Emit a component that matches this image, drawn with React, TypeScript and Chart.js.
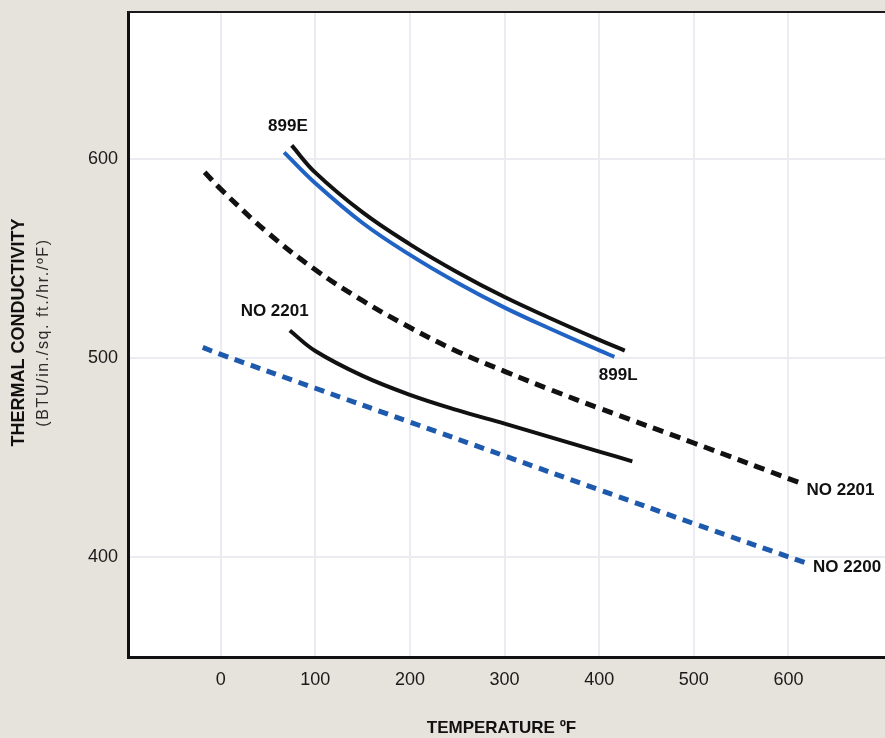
import React, { useEffect, useRef } from "react";
import { Chart, registerables } from "chart.js";

Chart.register(...registerables);

// ---- data ----
const xTicks = [0, 100, 200, 300, 400, 500, 600];
const yTicks = [400, 500, 600];

const e899Temp = [75, 100, 150, 200, 250, 300, 350, 400, 427];
const e899Val = [607, 593.3, 573.3, 557.3, 543.3, 530.8, 519.8, 509.3, 503.9];

const l899Temp = [67, 100, 150, 200, 250, 300, 350, 400, 416];
const l899Val = [603.5, 588, 568, 552, 538, 525.5, 514.5, 504, 500.8];

const no2201DashTemp = [-17, 0, 50, 100, 150, 200, 250, 300, 350, 400, 500, 612];
const no2201DashVal = [593.5, 585, 563, 544.5, 529, 515.5, 503.5, 493.5, 484, 475, 457.5, 437.5];

const no2201SolidTemp = [73, 100, 150, 200, 250, 300, 350, 400, 435];
const no2201SolidVal = [514, 503.7, 491.2, 481.7, 474, 467.2, 460.2, 453.2, 448.3];

const no2200Temp = [-19, 0, 100, 200, 300, 400, 500, 617];
const no2200Val = [505.5, 502, 485, 468, 451, 434, 417, 397.5];

const xTitle = "TEMPERATURE \u00BAF";
const yTitle1 = "THERMAL CONDUCTIVITY";
const yTitle2 = "(BTU/in./sq. ft./hr./\u00BAF)";

// label anchors in data space: [text, temp, value, align]
const curveLabels: [string, number, number, CanvasTextAlign][] = [
  ["899E", 71, 616.5, "center"],
  ["899L", 420, 491.5, "center"],
  ["NO 2201", 57, 523.5, "center"],
  ["NO 2201", 619, 433.5, "left"],
  ["NO 2200", 626, 395, "left"],
];

const zip = (xs: number[], ys: number[]) => xs.map((x, i) => ({ x, y: ys[i] }));

const BG = "#e6e2dc";
const FAM = "'Liberation Sans', Arial, sans-serif";
const BOLD = `bold 17px ${FAM}`;

const decorPlugin = {
  id: "decor",
  beforeDraw(chart: any) {
    const { ctx, chartArea: a } = chart;
    ctx.save();
    ctx.fillStyle = "#ffffff";
    ctx.fillRect(a.left, a.top, a.right - a.left, a.bottom - a.top);
    ctx.restore();
  },
  afterDraw(chart: any) {
    const { ctx, chartArea: a, scales } = chart;
    ctx.save();
    // top border
    ctx.strokeStyle = "#1a1a1a";
    ctx.lineWidth = 2;
    ctx.beginPath();
    ctx.moveTo(a.left, a.top);
    ctx.lineTo(a.right, a.top);
    ctx.stroke();

    // curve labels
    ctx.fillStyle = "#111";
    ctx.font = BOLD;
    ctx.textBaseline = "middle";
    for (const [t, xv, yv, al] of curveLabels) {
      ctx.textAlign = al;
      ctx.fillText(t, scales.x.getPixelForValue(xv), scales.y.getPixelForValue(yv));
    }

    // x title
    ctx.textAlign = "center";
    ctx.fillText(xTitle, (a.left + a.right) / 2 - 5, 728);

    // y titles
    const cy = (a.top + a.bottom) / 2 - 2;
    ctx.translate(19, cy);
    ctx.rotate(-Math.PI / 2);
    ctx.font = `bold 18px ${FAM}`;
    ctx.textAlign = "center";
    ctx.fillText(yTitle1, 0, 0);
    ctx.font = `16px ${FAM}`;
    (ctx as any).letterSpacing = "1.6px";
    ctx.fillStyle = "#2a2a2a";
    ctx.fillText(yTitle2, 0, 25);
    ctx.restore();
  },
};

export default function App() {
  const ref = useRef<HTMLCanvasElement | null>(null);

  useEffect(() => {
    if (!ref.current) return;
    const blue = "#2063c4";
    const dashBlue = "#1d5aae";
    const common = { pointRadius: 0, tension: 0.4, fill: false };
    const chart = new Chart(ref.current, {
      type: "line",
      data: {
        datasets: [
          {
            label: "899E",
            data: zip(e899Temp, e899Val),
            borderColor: "#111",
            borderWidth: 4,
            ...common,
          },
          {
            label: "899L",
            data: zip(l899Temp, l899Val),
            borderColor: blue,
            borderWidth: 4,
            ...common,
          },
          {
            label: "NO 2201 (dashed)",
            data: zip(no2201DashTemp, no2201DashVal),
            borderColor: "#111",
            borderWidth: 5,
            borderDash: [11, 7],
            ...common,
          },
          {
            label: "NO 2201",
            data: zip(no2201SolidTemp, no2201SolidVal),
            borderColor: "#111",
            borderWidth: 4,
            ...common,
          },
          {
            label: "NO 2200",
            data: zip(no2200Temp, no2200Val),
            borderColor: dashBlue,
            borderWidth: 5,
            borderDash: [10, 7],
            ...common,
          },
        ],
      },
      options: {
        responsive: false,
        animation: false,
        devicePixelRatio: 1,
        layout: { padding: { top: 12, right: 0, left: 0, bottom: 0 } },
        plugins: { legend: { display: false }, tooltip: { enabled: false } },
        scales: {
          x: {
            type: "linear",
            min: -98,
            max: 702,
            afterBuildTicks: (s: any) => {
              s.ticks = xTicks.map((v) => ({ value: v }));
            },
            afterFit: (s: any) => {
              s.height = 81;
              s.paddingLeft = 0;
              s.paddingRight = 0;
            },
            ticks: {
              color: "#1a1a1a",
              font: { size: 18, family: FAM },
              padding: 12,
              maxRotation: 0,
            },
            grid: { color: "#ebebf2", lineWidth: 2, drawTicks: false },
            border: { display: true, color: "#111", width: 3 },
          },
          y: {
            type: "linear",
            min: 350,
            max: 674,
            afterBuildTicks: (s: any) => {
              s.ticks = yTicks.map((v) => ({ value: v }));
            },
            afterFit: (s: any) => {
              s.width = 128;
              s.paddingTop = 0;
              s.paddingBottom = 0;
            },
            ticks: {
              color: "#1a1a1a",
              font: { size: 18, family: FAM },
              padding: 10,
            },
            grid: { color: "#ebebf2", lineWidth: 2, drawTicks: false },
            border: { display: true, color: "#111", width: 3 },
          },
        },
      },
      plugins: [decorPlugin],
    });
    return () => chart.destroy();
  }, []);

  return (
    <div
      style={{
        position: "fixed",
        left: 0,
        top: 0,
        width: 885,
        height: 738,
        background: BG,
        overflow: "hidden",
      }}
    >
      <canvas ref={ref} width={885} height={738} style={{ display: "block" }} />
    </div>
  );
}
